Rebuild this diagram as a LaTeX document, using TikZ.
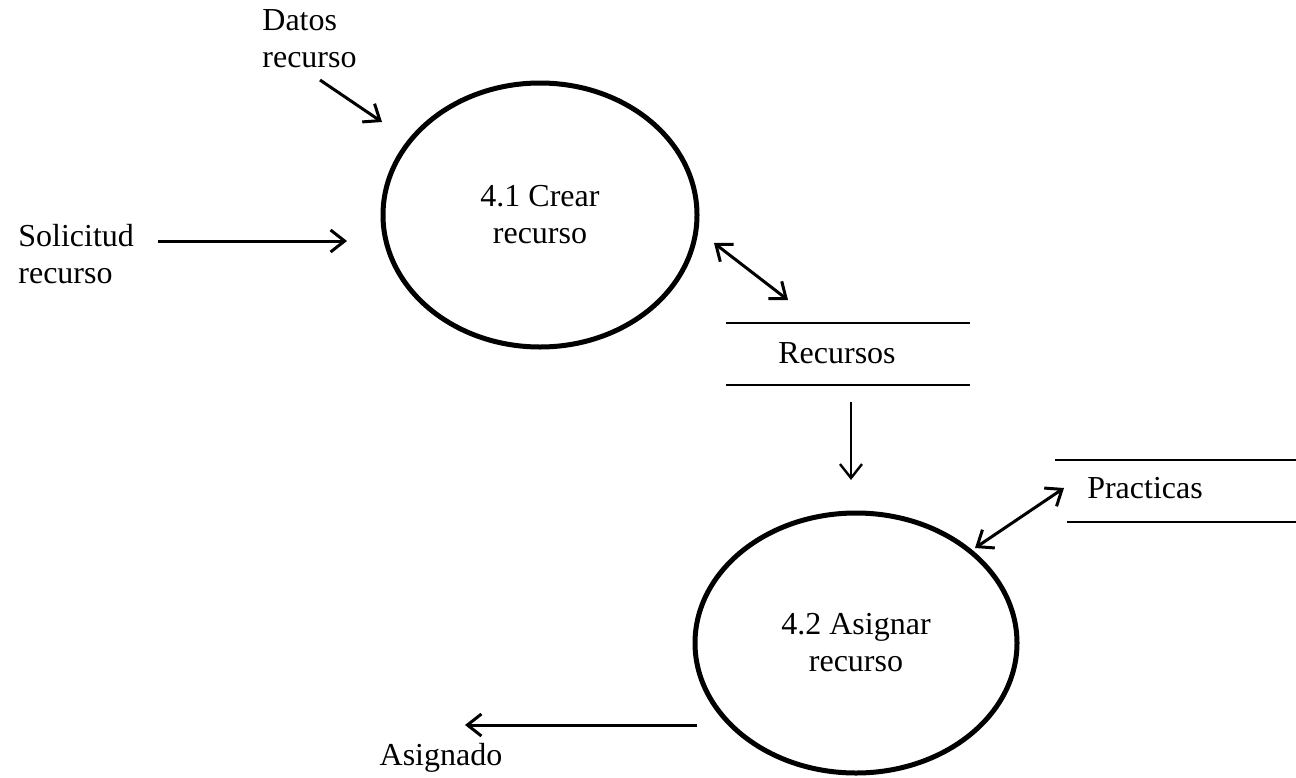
\documentclass[tikz,border=0pt]{standalone}
\usepackage{fontspec}
\setmainfont{Liberation Serif}
\usetikzlibrary{shapes.geometric,arrows.meta}
\begin{document}
\begin{tikzpicture}[x=0.5pt,y=-0.5pt,
  txt/.style={inner sep=0pt, font=\fontsize{16}{18.5}\selectfont},
  proc/.style={ellipse, draw, line width=2.5pt, inner sep=0pt, txt, align=center},
  tipV/.tip={Straight Barb[length=7pt,width=11pt]},
  flow/.style={line width=1.5pt, -tipV},
  bothflow/.style={line width=1.5pt, tipV-tipV},
  storeline/.style={line width=1pt}]
\useasboundingbox (0,0) rectangle (1296,777);

% processes
\node[proc, minimum width=157pt, minimum height=132pt] (crear) at (540,215) {4.1 Crear\\recurso};
\node[proc, minimum width=161pt, minimum height=130pt] (asignar) at (856,643) {4.2 Asignar\\recurso};

% external flows and data stores
\node[txt, align=left, anchor=west] (datos) at (262,38.7) {Datos\\recurso};
\node[txt, align=left, anchor=west] (solicitud) at (18,254) {Solicitud\\recurso};
\node[txt, anchor=base] (recursos) at (837,363) {Recursos};
\node[txt, anchor=base] (practicas) at (1145,498) {Practicas};
\node[txt, anchor=base] (asignado) at (441,765) {Asignado};

% store outlines
\coordinate (r1) at (726,323); \coordinate (r2) at (970,323);
\coordinate (r3) at (726,385); \coordinate (r4) at (970,385);
\coordinate (p1) at (1055,460); \coordinate (p2) at (1296,460);
\coordinate (p3) at (1067,522); \coordinate (p4) at (1296,522);
\draw[storeline] (r1) -- (r2);
\draw[storeline] (r3) -- (r4);
\draw[storeline] (p1) -- (p2);
\draw[storeline] (p3) -- (p4);

% flow end points
\coordinate (datosA) at (320,80);   \coordinate (datosB) at (382,122);
\coordinate (solA) at (158,241);    \coordinate (solB) at (347,241);
\coordinate (crA) at (714,243);     \coordinate (crB) at (788,300);
\coordinate (recA) at (851,402);    \coordinate (recB) at (851,480);
\coordinate (prA) at (975,548);     \coordinate (prB) at (1064,488);
\coordinate (asA) at (697,725);     \coordinate (asB) at (465,725);

% flows
\draw[flow] (datosA) -- (datosB);
\draw[flow] (solA) -- (solB);
\draw[bothflow] (crA) -- (crB);
\draw[flow, line width=1.2pt] (recA) -- (recB);
\draw[bothflow] (prA) -- (prB);
\draw[flow] (asA) -- (asB);
\end{tikzpicture}
\end{document}
